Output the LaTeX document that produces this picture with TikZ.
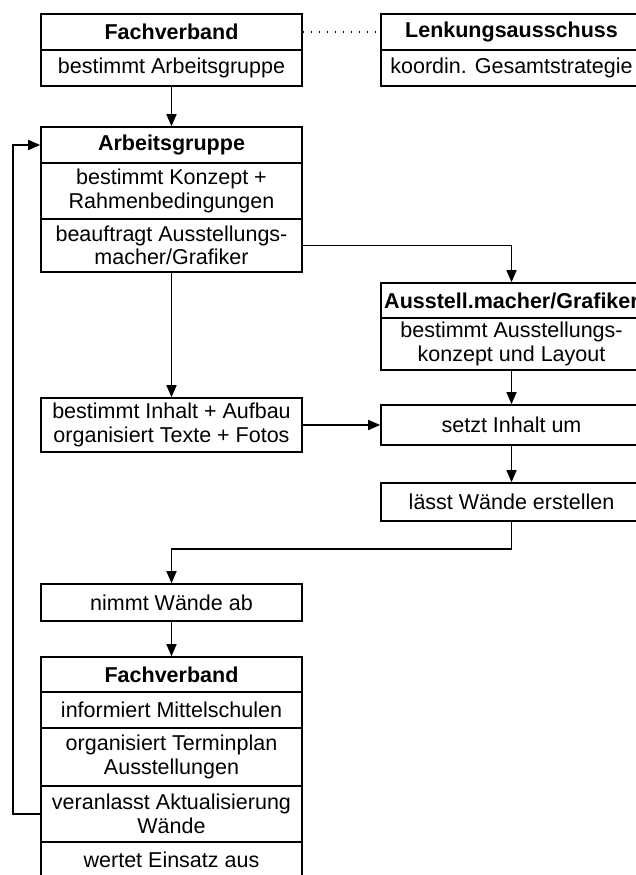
\documentclass[tikz,border=0pt]{standalone}
\usepackage{fontspec}
\setmainfont{Liberation Sans}
\usetikzlibrary{arrows.meta}
\begin{document}
\begin{tikzpicture}[x=1pt,y=-1pt,
  cell/.style={draw, line width=1.6pt, minimum width=261pt, inner sep=0pt,
    align=center, font=\fontsize{21.5}{23.5}\selectfont},
  head/.style={cell, font=\fontsize{21.5}{23.5}\selectfont\bfseries},
  flow/.style={line width=1.5pt, -{Triangle[length=12pt,width=10pt]}},
  link/.style={line width=1.5pt, dash pattern=on 1.5pt off 6.5pt}]
\useasboundingbox (0,0) rectangle (635,875);

% top row
\node[head, minimum height=36pt] (fvh) at (171.5,32) {Fachverband};
\node[cell, minimum height=36pt] (fvb) at (171.5,68) {bestimmt Arbeitsgruppe};
\node[head, minimum height=36pt] (lah) at (511.5,32) {Lenkungsausschuss};
\node[cell, minimum height=36pt] (lab) at (511.5,68) {koordin. Gesamtstrategie};

% working group
\node[head, minimum height=36pt] (agh) at (171.5,145) {Arbeitsgruppe};
\node[cell, minimum height=56pt] (ag1) at (171.5,191) {bestimmt Konzept +\\Rahmenbedingungen};
\node[cell, minimum height=53pt] (ag2) at (171.5,245.5) {beauftragt Ausstellungs-\\macher/Grafiker};

% exhibition designer
\node[head, minimum height=35pt] (amh) at (511.5,300.5) {Ausstell.macher/Grafiker};
\node[cell, minimum height=52pt] (am1) at (511.5,344) {bestimmt Ausstellungs-\\konzept und Layout};

\node[cell, minimum height=54pt] (inh) at (171.5,425) {bestimmt Inhalt + Aufbau\\organisiert Texte + Fotos};
\node[cell, minimum height=40pt] (setzt) at (511.5,425) {setzt Inhalt um};
\node[cell, minimum height=38pt] (lass) at (511.5,502) {lässt Wände erstellen};

\node[cell, minimum height=37pt] (nimmt) at (171.5,602.5) {nimmt Wände ab};

% association, second stage
\node[head, minimum height=35pt] (fv2h) at (171.5,674.5) {Fachverband};
\node[cell, minimum height=36pt] (fv2a) at (171.5,710) {informiert Mittelschulen};
\node[cell, minimum height=58pt] (fv2b) at (171.5,757) {organisiert Terminplan\\Ausstellungen};
\node[cell, minimum height=56pt] (fv2c) at (171.5,814) {veranlasst Aktualisierung\\Wände};
\node[cell, minimum height=36pt] (fv2d) at (171.5,860) {wertet Einsatz aus};

% connectors
\draw[link] (fvh.east) -- (lah.west);
\draw[flow] (fvb.south) -- (agh.north);
\draw[flow] (ag2.east) -| (amh.north);
\draw[flow] (ag2.south) -- (inh.north);
\draw[flow] (am1.south) -- (setzt.north);
\draw[flow] (inh.east) -- (setzt.west);
\draw[flow] (setzt.south) -- (lass.north);
\draw[flow] (lass.south) -- ++(0,27) -| (nimmt.north);
\draw[flow] (nimmt.south) -- (fv2h.north);
\draw[flow] (fv2c.west) -- ++(-27,0) |- (agh.west);
\end{tikzpicture}
\end{document}
